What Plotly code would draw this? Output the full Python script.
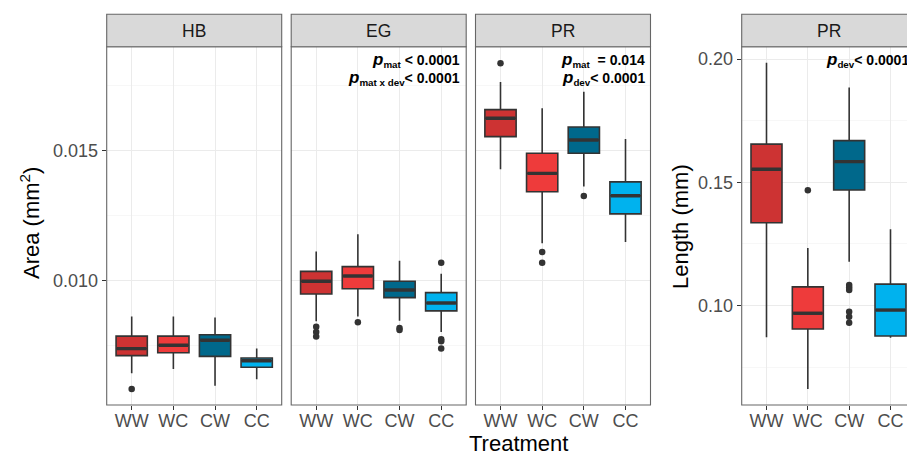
import plotly.graph_objects as go

W, H = 907, 454

categories = ["WW", "WC", "CW", "CC"]
colors = ["#CD3333", "#EE3B3B", "#00688B", "#00B2EE"]

# ---- Area (mm^2) panels ----
hb_lower = [0.00644, 0.00660, 0.00596, 0.00621]
hb_q1 = [0.00712, 0.00723, 0.00709, 0.00667]
hb_med = [0.00739, 0.00752, 0.00771, 0.00692]
hb_q3 = [0.00787, 0.00787, 0.00792, 0.00703]
hb_upper = [0.00862, 0.00862, 0.00859, 0.00739]
hb_out_cat = ["WW"]
hb_out_val = [0.00584]

eg_lower = [0.00844, 0.00862, 0.00846, 0.00803]
eg_q1 = [0.00949, 0.00969, 0.00935, 0.00884]
eg_med = [0.00998, 0.01018, 0.00964, 0.00914]
eg_q3 = [0.01036, 0.01054, 0.00998, 0.00954]
eg_upper = [0.01112, 0.01179, 0.01077, 0.01027]
eg_out_cat = ["WW", "WW", "WW", "WC", "CW", "CW", "CC", "CC", "CC", "CC"]
eg_out_val = [0.00823, 0.00803, 0.00785, 0.00840, 0.00818, 0.00810,
              0.01069, 0.00775, 0.00767, 0.00739]

pr_lower = [0.01429, 0.01144, 0.01362, 0.01149]
pr_q1 = [0.01554, 0.01342, 0.01490, 0.01257]
pr_med = [0.01625, 0.01413, 0.01541, 0.01327]
pr_q3 = [0.01658, 0.01490, 0.01591, 0.01380]
pr_upper = [0.01764, 0.01663, 0.01727, 0.01545]
pr_out_cat = ["WW", "WC", "WC", "CW"]
pr_out_val = [0.01836, 0.01110, 0.01069, 0.01326]

# ---- Length (mm) panel ----
len_lower = [0.0872, 0.0662, 0.1178, 0.0870]
len_q1 = [0.1336, 0.0905, 0.1469, 0.0877]
len_med = [0.1553, 0.0969, 0.1584, 0.0982]
len_q3 = [0.1655, 0.1076, 0.1669, 0.1087]
len_upper = [0.1985, 0.1234, 0.1885, 0.1310]
len_out_cat = ["WC", "CW", "CW", "CW", "CW", "CW", "CW"]
len_out_val = [0.1468, 0.1084, 0.1074, 0.1063, 0.0975, 0.0955, 0.0931]

strip_labels = ["HB", "EG", "PR", "PR"]

FONT = "Liberation Sans, Arial, Helvetica, sans-serif"
LINE = "#333333"
BORDER = "#666666"
GRID = "#EBEBEB"


def px_x(p):
    return p / W


def px_y(p):
    return 1 - p / H


# panel pixel extents
panels_px = [(106.7, 281.7), (291.2, 466.2), (475.5, 650.5), (741.7, 915.3)]
top_px, bot_px, strip_top_px = 46.7, 405.0, 14.3

fig = go.Figure()

datasets = [
    (hb_lower, hb_q1, hb_med, hb_q3, hb_upper, hb_out_cat, hb_out_val),
    (eg_lower, eg_q1, eg_med, eg_q3, eg_upper, eg_out_cat, eg_out_val),
    (pr_lower, pr_q1, pr_med, pr_q3, pr_upper, pr_out_cat, pr_out_val),
    (len_lower, len_q1, len_med, len_q3, len_upper, len_out_cat, len_out_val),
]

for k, (lo, q1, md, q3, up, oc, ov) in enumerate(datasets):
    xa = "x" if k == 0 else f"x{k+1}"
    ya = "y" if k == 0 else f"y{k+1}"
    for i, c in enumerate(categories):
        fig.add_trace(go.Box(
            x=[c], q1=[q1[i]], median=[md[i]], q3=[q3[i]],
            lowerfence=[lo[i]], upperfence=[up[i]],
            fillcolor=colors[i], line=dict(color=LINE, width=1.6),
            whiskerwidth=0, width=0.75, boxpoints=False,
            xaxis=xa, yaxis=ya, showlegend=False, hoverinfo="skip"))
    # thicker median bars (line-ew length = 1.4 * size)
    fig.add_trace(go.Scatter(
        x=categories, y=md, mode="markers",
        marker=dict(symbol="line-ew", size=21,
                    line=dict(color=LINE, width=3.4)),
        xaxis=xa, yaxis=ya, showlegend=False, hoverinfo="skip"))
    # outliers
    fig.add_trace(go.Scatter(
        x=oc, y=ov, mode="markers",
        marker=dict(size=6.5, color=LINE),
        xaxis=xa, yaxis=ya, showlegend=False, hoverinfo="skip"))

ydom = [px_y(bot_px), px_y(top_px)]
tickfont = dict(family=FONT, size=18, color="#4D4D4D")

layout = dict(
    width=W, height=H,
    margin=dict(l=0, r=0, t=0, b=0),
    paper_bgcolor="white", plot_bgcolor="white",
    font=dict(family=FONT),
    shapes=[], annotations=[],
)

for k, (x0, x1) in enumerate(panels_px):
    xname = "xaxis" if k == 0 else f"xaxis{k+1}"
    yname = "yaxis" if k == 0 else f"yaxis{k+1}"
    yref = "y" if k == 0 else f"y{k+1}"
    xref = "x" if k == 0 else f"x{k+1}"
    if k < 3:
        dom = [px_x(x0), px_x(x1)]
        xr = [-0.6, 3.6]
    else:
        dom = [px_x(x0), 1.0]
        unit = (x1 - x0) / 4.2
        xr = [-0.6, 3.6 - (x1 - W) / unit]
    layout[xname] = dict(
        domain=dom, range=xr, type="category", anchor=yref,
        categoryorder="array", categoryarray=categories,
        showgrid=True, gridcolor=GRID, gridwidth=1,
        ticks="outside", ticklen=4, tickcolor=LINE, tickwidth=1,
        ticklabelstandoff=-5,
        tickfont=tickfont, showline=False, zeroline=False, fixedrange=True)
    ydict = dict(domain=ydom, anchor=xref, showgrid=True, gridcolor=GRID,
                 gridwidth=1, zeroline=False, showline=False, fixedrange=True)
    if k < 3:
        ydict.update(range=[0.00522, 0.0190], tick0=0, dtick=0.005,
                     tickformat=".3f",
                     minor=dict(dtick=0.0025, showgrid=True,
                                gridcolor="#F2F2F2", gridwidth=0.6))
        if k == 0:
            ydict.update(ticks="outside", ticklen=4, tickcolor=LINE,
                         tickwidth=1, tickfont=tickfont)
        else:
            ydict.update(matches="y", showticklabels=False, ticks="")
    else:
        ydict.update(range=[0.0597, 0.2050], tick0=0, dtick=0.05,
                     tickformat=".2f", ticks="outside", ticklen=4,
                     tickcolor=LINE, tickwidth=1, tickfont=tickfont,
                     minor=dict(dtick=0.025, showgrid=True,
                                gridcolor="#F2F2F2", gridwidth=0.6))
    layout[yname] = ydict

    # panel border
    layout["shapes"].append(dict(
        type="rect", xref="paper", yref="paper",
        x0=px_x(x0), x1=px_x(x1), y0=px_y(bot_px), y1=px_y(top_px),
        line=dict(color=BORDER, width=1.1), fillcolor="rgba(0,0,0,0)",
        layer="above"))
    # strip
    layout["shapes"].append(dict(
        type="rect", xref="paper", yref="paper",
        x0=px_x(x0), x1=px_x(x1), y0=px_y(top_px), y1=px_y(strip_top_px),
        line=dict(color=BORDER, width=1.1), fillcolor="#D9D9D9",
        layer="above"))
    layout["annotations"].append(dict(
        text=strip_labels[k], xref="paper", yref="paper",
        x=px_x((x0 + x1) / 2), y=px_y((top_px + strip_top_px) / 2),
        xanchor="center", yanchor="middle", showarrow=False,
        font=dict(family=FONT, size=17.5, color="#1A1A1A")))


def pval(sub, rest):
    return ("<b><i><span style='font-size:17px'>p</span></i></b>"
            f"<sub><b>{sub}</b></sub><b>{rest}</b>")


ptexts = [
    (2, 60, pval("mat", " &lt; 0.0001")),
    (2, 78, pval("mat x dev", "&lt; 0.0001")),
    (3, 60, pval("mat", "  = 0.014")),
    (3, 78, pval("dev", "&lt; 0.0001")),
    (4, 60, pval("dev", "&lt; 0.0001")),
]
for panel, ypx, txt in ptexts:
    x1 = panels_px[panel - 1][1]
    layout["annotations"].append(dict(
        text=txt, xref="paper", yref="paper", x=px_x(x1 - 4), y=px_y(ypx),
        xanchor="right", yanchor="middle", showarrow=False,
        font=dict(family=FONT, size=14, color="black")))

# axis titles
layout["annotations"] += [
    dict(text="Area (mm<sup>2</sup>)", xref="paper", yref="paper",
         x=px_x(30), y=px_y(223), textangle=-90, showarrow=False,
         xanchor="center", yanchor="middle",
         font=dict(family=FONT, size=22, color="black")),
    dict(text="Treatment", xref="paper", yref="paper",
         x=px_x(518), y=px_y(443), showarrow=False,
         xanchor="center", yanchor="middle",
         font=dict(family=FONT, size=22, color="black")),
    dict(text="Length (mm)", xref="paper", yref="paper",
         x=px_x(680), y=px_y(227), textangle=-90, showarrow=False,
         xanchor="center", yanchor="middle",
         font=dict(family=FONT, size=22, color="black")),
]

fig.update_layout(**layout)
fig.write_html(
    "out.html",
    config={"displayModeBar": False, "staticPlot": True},
    post_script="document.body.style.margin='0';"
                "document.body.style.overflow='hidden';")
